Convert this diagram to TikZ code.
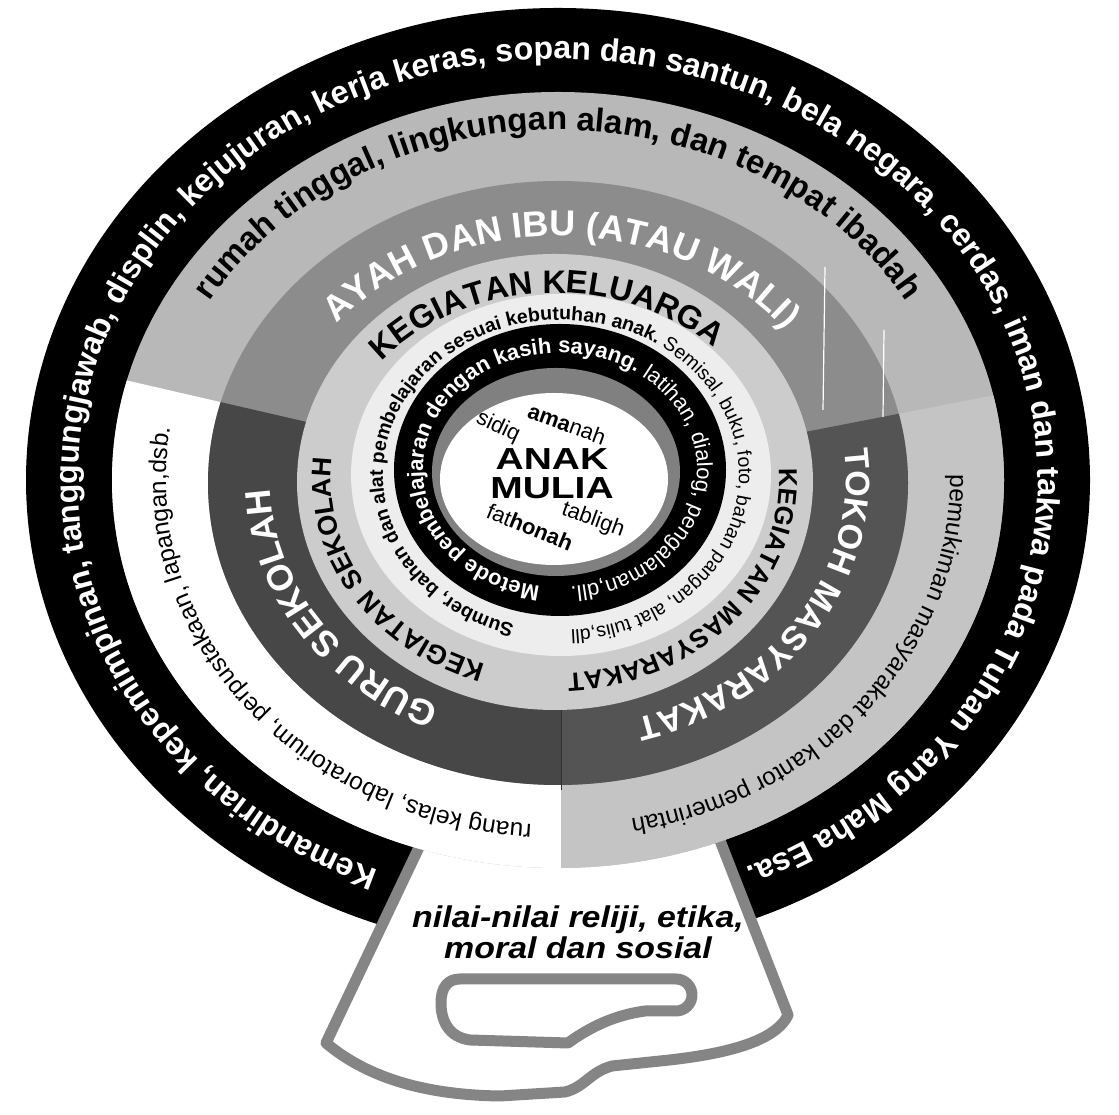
\documentclass[tikz,border=0pt]{standalone}
\usepackage{fontspec}
\setmainfont{Liberation Sans}
\usetikzlibrary{decorations.text}
\definecolor{zonetop}{gray}{0.72}
\definecolor{zoneright}{gray}{0.77}
\definecolor{ayahgray}{gray}{0.55}
\definecolor{darkring}{gray}{0.28}
\definecolor{darkringb}{gray}{0.33}
\definecolor{keggray}{gray}{0.80}
\definecolor{smallgray}{gray}{0.93}
\definecolor{ringgray}{gray}{0.50}
\definecolor{handlegray}{gray}{0.52}
\tikzset{
 handlestyle/.style={fill=white, draw=handlegray, line width=11pt, line join=round},
 beam/.style={white, line width=1.2pt},
 divider/.style={black!80, line width=1pt},
 centerword/.style={font=\fontsize{22}{22}\selectfont, inner sep=0pt},
}
\begin{document}
\begin{tikzpicture}[x=1pt,y=1pt]
\useasboundingbox (0,0) rectangle (1119,1115);
\fill[white] (0,0) rectangle (1119,1115);
% outer black ring
\begin{scope}[shift={(558,635)}]
\fill[black] (0,0) ellipse[x radius=532pt,y radius=472pt];
\end{scope}
% handle
\draw[handlestyle] (432,295) -- (326,72) .. controls (370,35) and (430,20) .. (500,19) -- (565,23) .. controls (585,28) and (590,43) .. (612,49) -- (660,54) .. controls (720,60) and (775,72) .. (788,100) -- (712,295);
\draw[handlestyle] (460,136) -- (676,136) arc[start angle=90,end angle=-90,radius=16pt] -- (645,104) .. controls (615,100) and (590,88) .. (568,72) -- (470,75) .. controls (448,78) and (441,95) .. (441,112) .. controls (441,128) and (448,136) .. (460,136) -- cycle;
\node[font=\fontsize{30}{31}\selectfont\bfseries\itshape, align=center, xscale=1.13, inner sep=0pt] (nilai) at (578,183) {nilai-nilai reliji, etika,\\moral dan sosial};
% disk
\begin{scope}[shift={(558,635)}]
\fill[zonetop] (0,0) ellipse[x radius=446pt,y radius=388pt];
\begin{scope}
 \clip (0,0) -- (167:900pt) -- (-900,-900) -- (3,-900) -- (3,0) -- cycle;
 \fill[white] (0,0) ellipse[x radius=446pt,y radius=388pt];
\end{scope}
\begin{scope}
 \clip (3,0) -- (3,-900) -- (900,-900) -- (11:920pt) -- (0,0) -- cycle;
 \fill[zoneright] (0,0) ellipse[x radius=446pt,y radius=388pt];
\end{scope}
\fill[ayahgray] (0,-3) ellipse[x radius=350pt,y radius=302pt];
\begin{scope}
 \clip (0,0) -- (167:900pt) -- (-900,-900) -- (3,-900) -- (3,0) -- cycle;
 \fill[darkring] (0,-3) ellipse[x radius=350pt,y radius=302pt];
\end{scope}
\begin{scope}
 \clip (3,0) -- (3,-900) -- (900,-900) -- (11:920pt) -- (0,0) -- cycle;
 \fill[darkringb] (0,-3) ellipse[x radius=350pt,y radius=302pt];
\end{scope}
\coordinate (dv1) at (3,-200); \coordinate (dv2) at (3,-310);
\draw[divider] (dv1) -- (dv2);
\coordinate (b1a) at (267,213); \coordinate (b1b) at (265,70);
\coordinate (b2a) at (326,150); \coordinate (b2b) at (325,63);
\draw[beam] (b1a) -- (b1b);
\draw[beam] (b2a) -- (b2b);
\fill[keggray] (-3,-2) ellipse[x radius=258pt,y radius=228pt];
\fill[smallgray] (3,5) ellipse[x radius=210pt,y radius=181pt];
\fill[black] (2,10) ellipse[x radius=166pt,y radius=146pt];
\fill[ringgray] (-2,8) ellipse[x radius=124pt,y radius=104pt];
\fill[white] (-4,1) ellipse[x radius=114pt,y radius=86pt];
% outer ring text
\path[decorate,decoration={text along path,text align=center,text color=white,
 text={|\fontsize{32}{32}\selectfont\bfseries|Kemandirian, kepemimpinan, tanggungjawab, displin, kejujuran, kerja keras, sopan dan santun, bela negara, cerdas, iman dan takwa pada Tuhan Yang Maha Esa.}}]
 (262.5:480pt and 421pt) arc[start angle=262.5,end angle=-81.5,x radius=480pt,y radius=421pt];
% zone texts
\path[decorate,decoration={text along path,text align=center,
 text={|\fontsize{33}{33}\selectfont\bfseries|rumah tinggal, lingkungan alam, dan tempat ibadah}}]
 (178:405pt and 350pt) arc[start angle=178,end angle=2,x radius=405pt,y radius=350pt];
\path[decorate,decoration={text along path,text align=center,
 text={|\fontsize{24.5}{24.5}\selectfont|ruang kelas, laboratorium, perpustakaan, lapangan,dsb.}}]
 (278:392pt and 345pt) arc[start angle=278,end angle=158,x radius=392pt,y radius=345pt];
\path[decorate,decoration={text along path,text align=center,
 text={|\fontsize{24.5}{24.5}\selectfont|pemukiman masyarakat dan kantor pemerintah}}]
 (22:392pt and 345pt) arc[start angle=22,end angle=-98,x radius=392pt,y radius=345pt];
% ring 3 texts
\path[decorate,decoration={text along path,text align=center,text color=white,
 text={|\fontsize{36}{36}\selectfont\bfseries|AYAH DAN IBU (ATAU WALI)}}]
 (169:288pt and 244pt) arc[start angle=169,end angle=9,x radius=288pt,y radius=244pt];
\path[decorate,decoration={text along path,text align=center,text color=white,
 text={|\fontsize{36}{36}\selectfont\bfseries|GURU SEKOLAH}}]
 (272:288pt and 248pt) arc[start angle=272,end angle=152,x radius=288pt,y radius=248pt];
\path[decorate,decoration={text along path,text align=center,text color=white,
 text={|\fontsize{34}{34}\selectfont\bfseries|TOKOH MASYARAKAT}}]
 (38:288pt and 248pt) arc[start angle=38,end angle=-102,x radius=288pt,y radius=248pt];
% ring 4 texts
\begin{scope}[shift={(-3,0)}]
\path[decorate,decoration={text along path,text align=center,
 text={|\fontsize{32.5}{32.5}\selectfont\bfseries|KEGIATAN KELUARGA}}]
 (180:224pt and 187pt) arc[start angle=180,end angle=6,x radius=224pt,y radius=187pt];
\path[decorate,decoration={text along path,text align=center,
 text={|\fontsize{27}{27}\selectfont\bfseries|KEGIATAN SEKOLAH}}]
 (281:224pt and 194pt) arc[start angle=281,end angle=141,x radius=224pt,y radius=194pt];
\path[decorate,decoration={text along path,text align=center,
 text={|\fontsize{26}{26}\selectfont\bfseries|KEGIATAN MASYARAKAT}}]
 (35:224pt and 194pt) arc[start angle=35,end angle=-115,x radius=224pt,y radius=194pt];
\end{scope}
% small text ring
\begin{scope}[shift={(3,5)}]
\path[decorate,decoration={text along path,text align=center,
 text={|\fontsize{19.5}{19.5}\selectfont\bfseries|Sumber, bahan dan alat pembelajaran sesuai kebutuhan anak.|\fontsize{19.5}{19.5}\selectfont\mdseries| Semisal, buku, foto, bahan pangan, alat tulis,dll}}]
 (263.5:178pt and 155pt) arc[start angle=263.5,end angle=-95.5,x radius=178pt,y radius=155pt];
\end{scope}
% black inner ring text
\begin{scope}[shift={(2,10)}]
\path[decorate,decoration={text along path,text align=center,text color=white,
 text={|\fontsize{22}{22}\selectfont\bfseries|Metode pembelajaran dengan kasih sayang.|\fontsize{22}{22}\selectfont\mdseries| latihan, dialog, pengalaman,dll.}}]
 (267.5:137pt and 117pt) arc[start angle=267.5,end angle=-91.5,x radius=137pt,y radius=117pt];
\end{scope}
\end{scope}
% centre
\node[font=\fontsize{39}{39}\selectfont\bfseries, yscale=0.78, inner sep=0pt] (anak) at (552,656) {ANAK};
\node[font=\fontsize{39}{39}\selectfont\bfseries, yscale=0.78, inner sep=0pt] (mulia) at (552,627) {MULIA};
\node[centerword, rotate=-25] (sidiq) at (498,688) {sidiq};
\node[centerword, rotate=-20] (amanah) at (567,691) {\textbf{ama}nah};
\node[centerword, rotate=-20] (tabligh) at (593,595) {tabligh};
\node[centerword, rotate=-22] (fathonah) at (530,588) {fat\textbf{honah}};
\end{tikzpicture}
\end{document}
